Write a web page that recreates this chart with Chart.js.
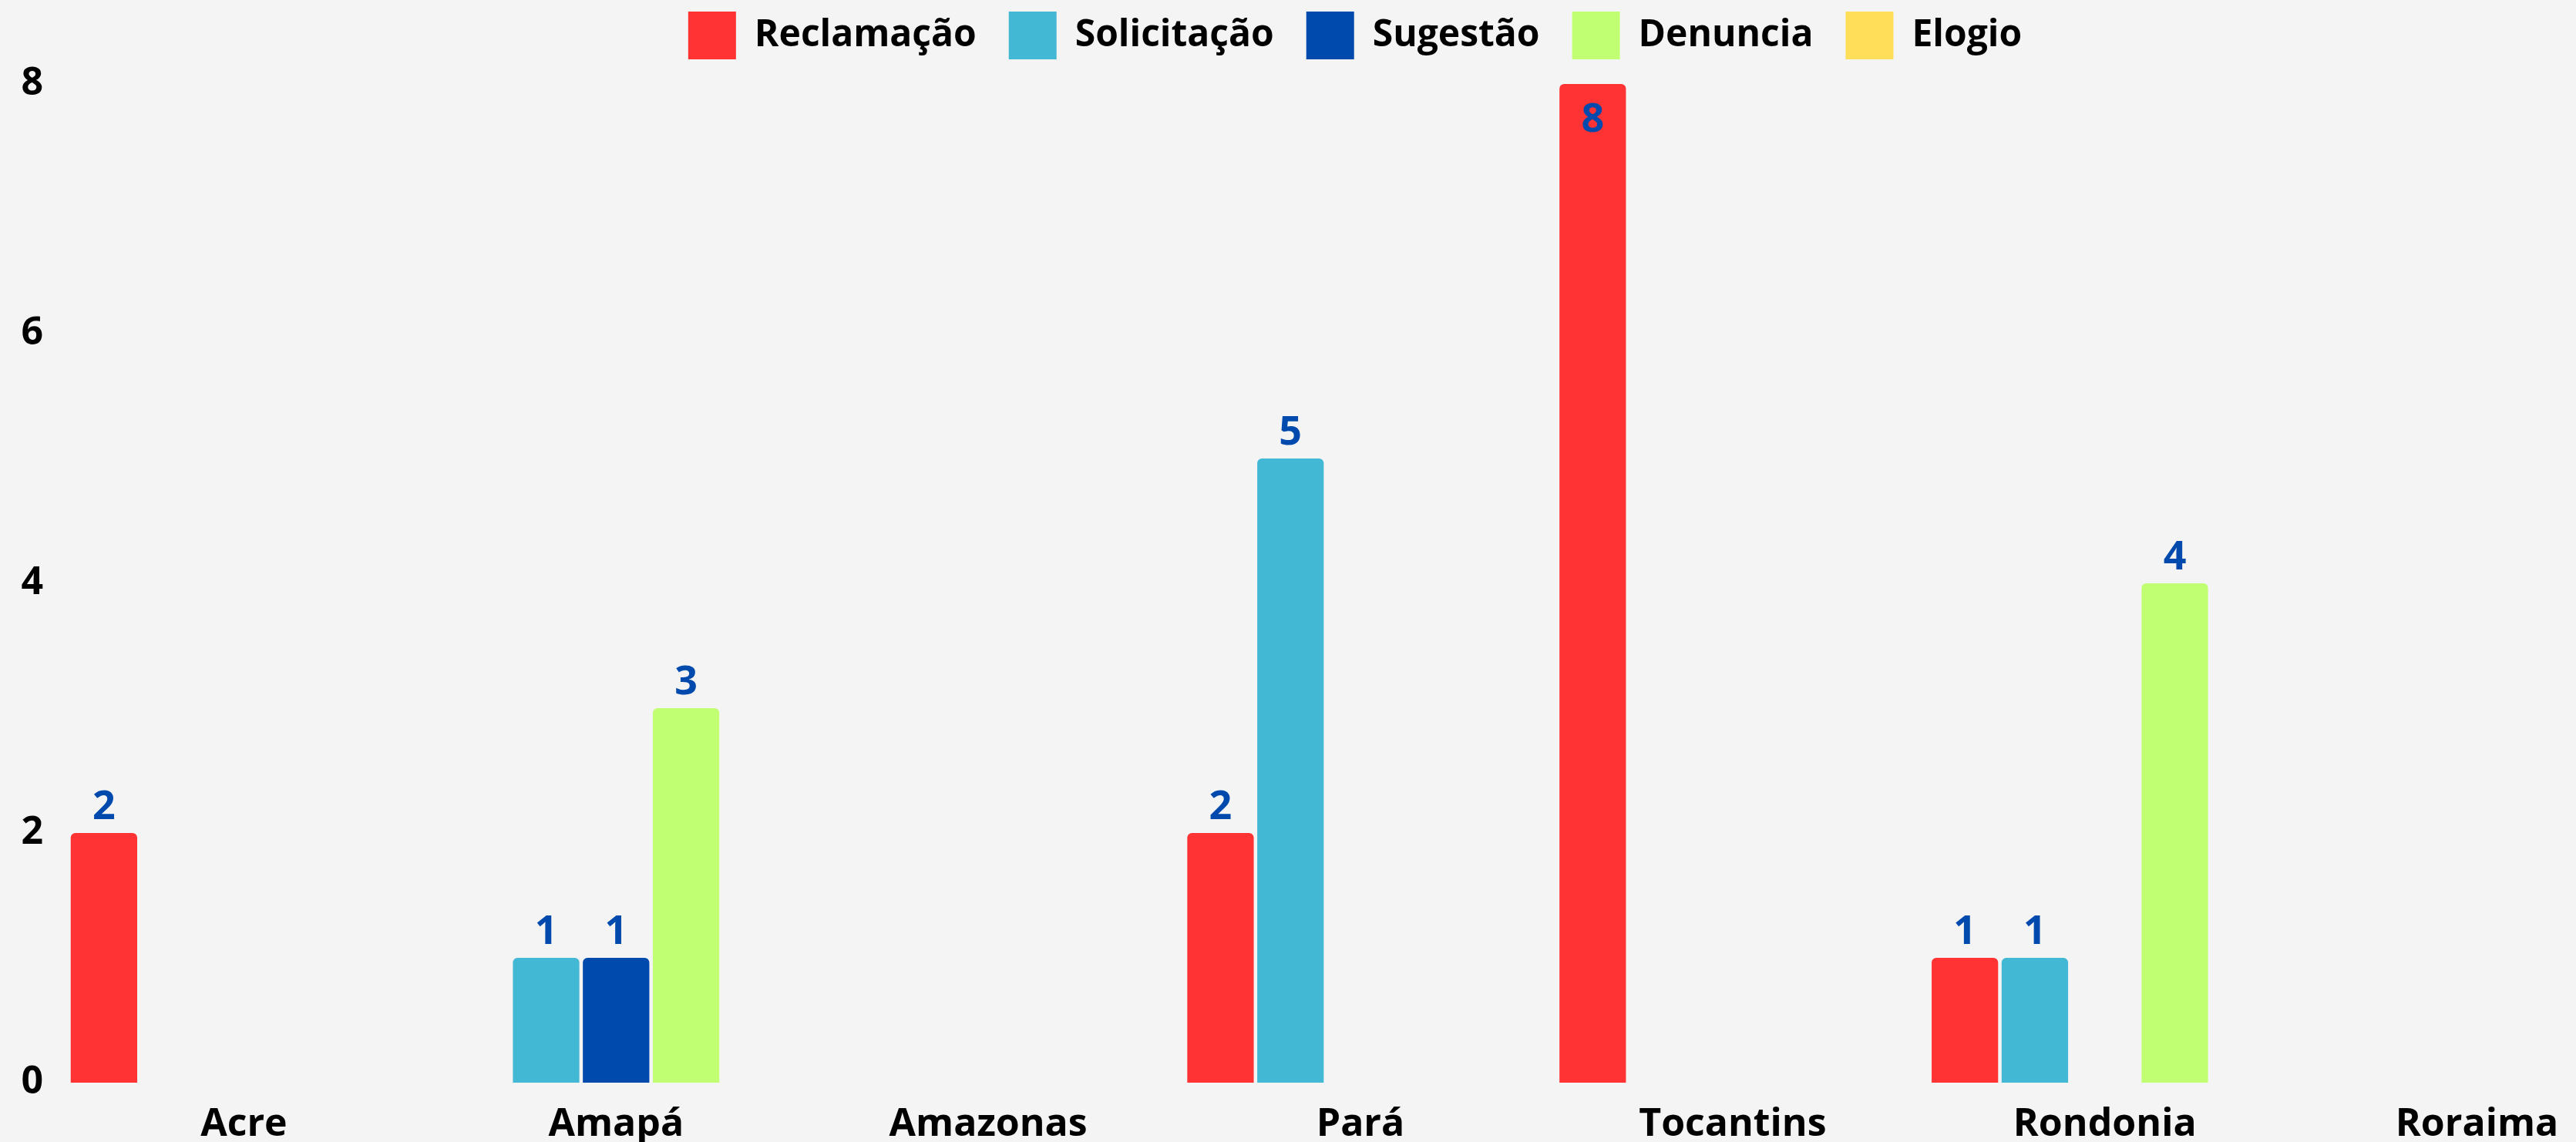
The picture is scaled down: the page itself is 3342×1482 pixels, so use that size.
<!DOCTYPE html>
<html>
<head>
<meta charset="utf-8">
<script src="https://cdn.jsdelivr.net/npm/chart.js@4.4.0/dist/chart.umd.min.js"></script>
<style>
  html, body { margin: 0; padding: 0; background: #f4f4f4; overflow: hidden; }
  #wrap { width: 3516px; height: 1482px; }
</style>
</head>
<body>
<div id="wrap"><canvas id="barChart" width="3516" height="1482"></canvas></div>
<script>
// states on the x axis
const estados = ["Acre", "Amapá", "Amazonas", "Pará", "Tocantins", "Rondonia", "Roraima"];

// one array per type of manifestation
const reclamacao = [2, 0, 0, 2, 8, 1, 0];
const solicitacao = [0, 1, 0, 5, 0, 1, 0];
const sugestao = [0, 1, 0, 0, 0, 0, 0];
const denuncia = [0, 3, 0, 0, 0, 4, 0];
const elogio = [0, 0, 0, 0, 0, 0, 0];

const yTicks = [0, 2, 4, 6, 8];

const fonte = "'Open Sans', 'Noto Sans', sans-serif";

// writes the value above each bar (skips zeros); inside the bar if no room on top
const valueLabels = {
  id: "valueLabels",
  afterDatasetsDraw(chart) {
    const ctx = chart.ctx;
    const top = chart.chartArea.top;
    ctx.save();
    ctx.font = "bold 52px " + fonte;
    ctx.fillStyle = "#004aad";
    ctx.textAlign = "center";
    ctx.textBaseline = "alphabetic";
    chart.data.datasets.forEach((ds, i) => {
      const meta = chart.getDatasetMeta(i);
      meta.data.forEach((bar, j) => {
        const v = ds.data[j];
        if (!v) return;
        let y = bar.y - 18;
        if (y - 38 < top) y = bar.y + 62;
        ctx.fillText(v, bar.x, y);
      });
    });
    ctx.restore();
  },
};

// more room under the legend, and center it on the whole canvas
const legendGap = {
  id: "legendGap",
  beforeInit(chart) {
    const fit = chart.legend.fit;
    chart.legend.fit = function () {
      fit.call(this);
      this.height += 22;
    };
  },
  afterLayout(chart) {
    chart.legend.right = chart.width;
  },
};

const ctx = document.getElementById("barChart");
new Chart(ctx, {
  type: "bar",
  data: {
    labels: estados,
    datasets: [
      { label: "Reclamação", data: reclamacao, backgroundColor: "#ff3333" },
      { label: "Solicitação", data: solicitacao, backgroundColor: "#42b8d5" },
      { label: "Sugestão", data: sugestao, backgroundColor: "#004aad" },
      { label: "Denuncia", data: denuncia, backgroundColor: "#c1ff72" },
      { label: "Elogio", data: elogio, backgroundColor: "#ffde59" },
    ],
  },
  options: {
    responsive: false,
    animation: false,
    layout: { padding: { left: 0, right: 61, top: -27, bottom: 0 } },
    datasets: {
      bar: {
        categoryPercentage: 0.94,
        barPercentage: 0.95,
        borderRadius: { topLeft: 6, topRight: 6 },
        borderSkipped: "bottom",
      },
    },
    plugins: {
      tooltip: { enabled: false },
      legend: {
        position: "top",
        labels: {
          boxWidth: 62,
          boxHeight: 62,
          padding: 42,
          color: "#000",
          font: { family: fonte, size: 48, weight: "bold" },
        },
      },
    },
    scales: {
      x: {
        grid: { display: false, drawTicks: false },
        border: { display: false },
        afterFit: (scale) => { scale.height = 77; },
        ticks: {
          color: "#000",
          padding: 25,
          maxRotation: 0,
          autoSkip: false,
          font: { family: fonte, size: 50, weight: "bold" },
        },
      },
      y: {
        min: 0,
        max: 8,
        grid: { display: false, drawTicks: false },
        border: { display: false },
        afterFit: (scale) => { scale.width = 75; },
        afterBuildTicks: (scale) => { scale.ticks = yTicks.map((v) => ({ value: v })); },
        ticks: {
          color: "#000",
          padding: 19,
          font: { family: fonte, size: 50, weight: "bold" },
        },
      },
    },
  },
  plugins: [valueLabels, legendGap],
});
</script>
</body>
</html>
